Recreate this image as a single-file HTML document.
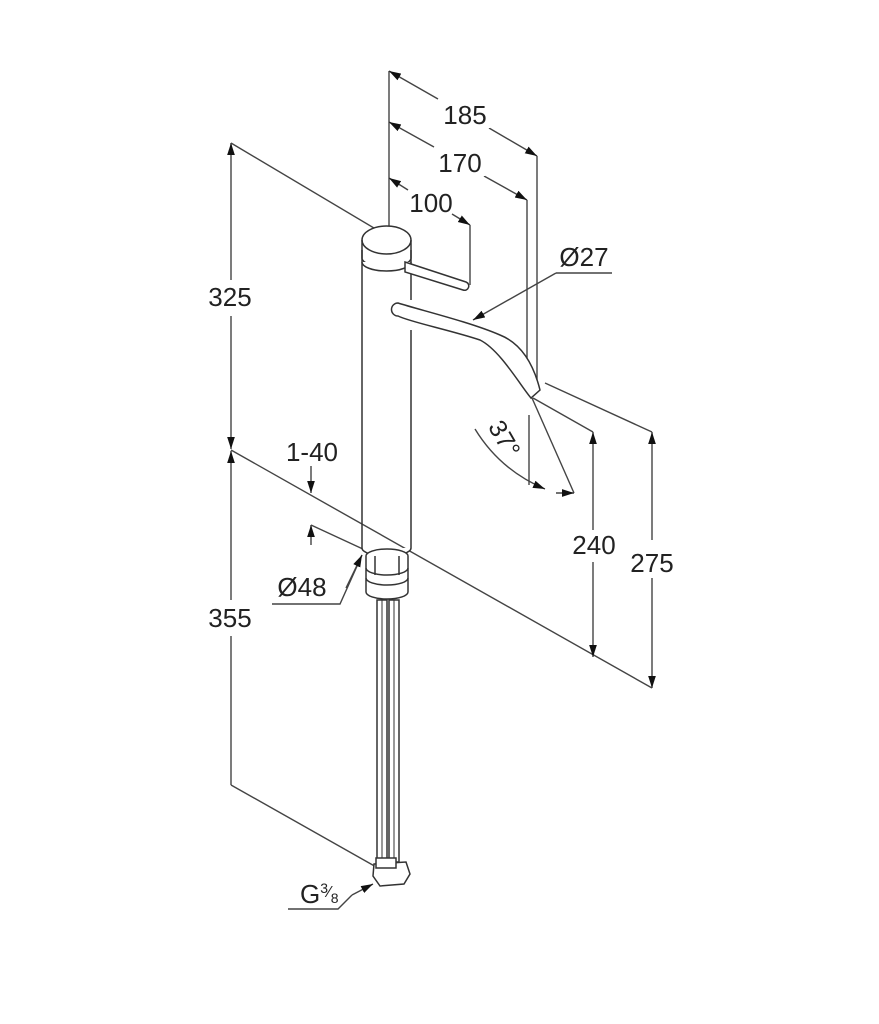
<!DOCTYPE html>
<html><head><meta charset="utf-8"><style>
html,body{margin:0;padding:0;background:#fff;}
svg{display:block;}
text{font-family:"Liberation Sans",sans-serif;fill:#222;}
</style></head><body>
<svg width="879" height="1024" viewBox="0 0 879 1024" xmlns="http://www.w3.org/2000/svg">
<defs>
<marker id="a" viewBox="0 0 10 10" refX="10" refY="5" markerWidth="12" markerHeight="12" orient="auto-start-reverse" markerUnits="userSpaceOnUse"><path d="M0,1.8 L10,5 L0,8.2 z" fill="#111"/></marker>
</defs>
<g stroke="#444" stroke-width="1.4" fill="none">
<line x1="231" y1="143" x2="231" y2="280" marker-start="url(#a)"/>
<line x1="231" y1="316" x2="231" y2="449" marker-end="url(#a)"/>
<line x1="231" y1="451" x2="231" y2="600" marker-start="url(#a)"/>
<line x1="231" y1="636" x2="231" y2="785"/>
<line x1="231" y1="143" x2="389" y2="237"/>
<line x1="231" y1="450" x2="652" y2="688"/>
<line x1="231" y1="785" x2="378" y2="868"/>
<line x1="389" y1="71" x2="389" y2="245"/>
<line x1="389" y1="71" x2="438" y2="99" marker-start="url(#a)"/>
<line x1="489" y1="128" x2="537" y2="156" marker-end="url(#a)"/>
<line x1="537" y1="156" x2="537" y2="385"/>
<line x1="389" y1="122" x2="434" y2="147" marker-start="url(#a)"/>
<line x1="484" y1="176" x2="527" y2="200" marker-end="url(#a)"/>
<line x1="527" y1="200" x2="527" y2="372"/>
<line x1="529" y1="415" x2="529" y2="485"/>
<line x1="389" y1="178" x2="408" y2="190" marker-start="url(#a)"/>
<line x1="452" y1="214" x2="470" y2="225" marker-end="url(#a)"/>
<line x1="470" y1="225" x2="470" y2="285"/>
<line x1="612" y1="273" x2="556" y2="273"/>
<line x1="556" y1="273" x2="473" y2="320" marker-end="url(#a)"/>
<line x1="533" y1="398" x2="593" y2="432"/>
<line x1="545" y1="383" x2="652" y2="432"/>
<line x1="532" y1="398" x2="574" y2="493"/>
<line x1="593" y1="432" x2="593" y2="530" marker-start="url(#a)"/>
<line x1="593" y1="562" x2="593" y2="657" marker-end="url(#a)"/>
<line x1="652" y1="432" x2="652" y2="540" marker-start="url(#a)"/>
<line x1="652" y1="578" x2="652" y2="688" marker-end="url(#a)"/>
<path d="M475,429 Q500,470 545,489" marker-end="url(#a)"/>
<line x1="556" y1="493" x2="574" y2="493" marker-end="url(#a)"/>
<line x1="311" y1="466" x2="311" y2="493" marker-end="url(#a)"/>
<line x1="311" y1="525" x2="311" y2="545" marker-start="url(#a)"/>
<line x1="311" y1="525" x2="365" y2="550"/>
<polyline points="272,604 340,604 362,555"/>
<line x1="346" y1="588" x2="362" y2="555" marker-end="url(#a)"/>
<polyline points="288,909 338,909 352,895"/>
<line x1="352" y1="895" x2="373" y2="884" marker-end="url(#a)"/>
</g>
<g stroke="#333" stroke-width="1.5" fill="#fff">
<line x1="362" y1="250" x2="362" y2="548"/>
<line x1="411" y1="250" x2="411" y2="300"/>
<line x1="411" y1="330" x2="411" y2="548"/>
<path d="M362,258 a24.5,9 0 0 0 49,0"/>
<path d="M362,262 a24.5,9 0 0 0 49,0"/>
<ellipse cx="386.5" cy="240" rx="24.5" ry="14"/>
<line x1="362" y1="240" x2="362" y2="258"/>
<line x1="411" y1="240" x2="411" y2="258"/>
<path d="M405,262 L466,282 a4,4 0 0 1 -3,8 L405,272 z"/>
<path d="M398,303 C420,310 470,322 500,335 C525,345 535,370 540,390 L531,398 C520,385 500,350 480,340 C450,330 410,322 398,316 a6,6 0 0 1 0,-13 z"/>
<path d="M362,548 a24.5,8 0 0 0 49,0"/>
<path d="M366,556 L366,592 a21,7 0 0 0 42,0 L408,556 a21,7 0 0 0 -42,0 z"/>
<path d="M366,568 a21,7 0 0 0 42,0" fill="none"/>
<path d="M366,578 a21,7 0 0 0 42,0" fill="none"/>
<path d="M375,556 L375,575 M399,556 L399,575" fill="none"/>
<rect x="377" y="600" width="10" height="262" fill="#fff"/>
<rect x="389" y="600" width="10" height="262" fill="#fff"/>
<line x1="382" y1="600" x2="382" y2="862" stroke-width="1"/>
<line x1="394" y1="600" x2="394" y2="862" stroke-width="1"/>
<path d="M374,864 L406,862 L410,874 L404,884 L380,886 L373,876 z"/>
<path d="M376,858 L396,858 L396,868 L376,868 z"/>
</g>
<g font-size="26" text-anchor="middle">
<rect x="430" y="100" width="60" height="28" fill="#fff"/>
<text x="465" y="124">185</text>
<rect x="425" y="148" width="60" height="28" fill="#fff"/>
<text x="460" y="172">170</text>
<text x="431" y="212">100</text>
<text x="584" y="266">Ø27</text>
<rect x="200" y="282" width="60" height="32" fill="#fff"/>
<text x="230" y="306">325</text>
<text x="312" y="461">1-40</text>
<rect x="566" y="530" width="56" height="32" fill="#fff"/>
<text x="594" y="554">240</text>
<rect x="624" y="542" width="56" height="36" fill="#fff"/>
<text x="652" y="572">275</text>
<text x="302" y="596">Ø48</text>
<rect x="200" y="602" width="60" height="32" fill="#fff"/>
<text x="230" y="627">355</text>
<text x="497" y="443" transform="rotate(60 497 443)" font-size="25">37°</text>
<text x="300" y="903" text-anchor="start">G<tspan font-size="14" dy="-10">3</tspan><tspan font-size="16" dy="4">⁄</tspan><tspan font-size="14" dy="6">8</tspan></text>
</g>
</svg>
</body></html>
